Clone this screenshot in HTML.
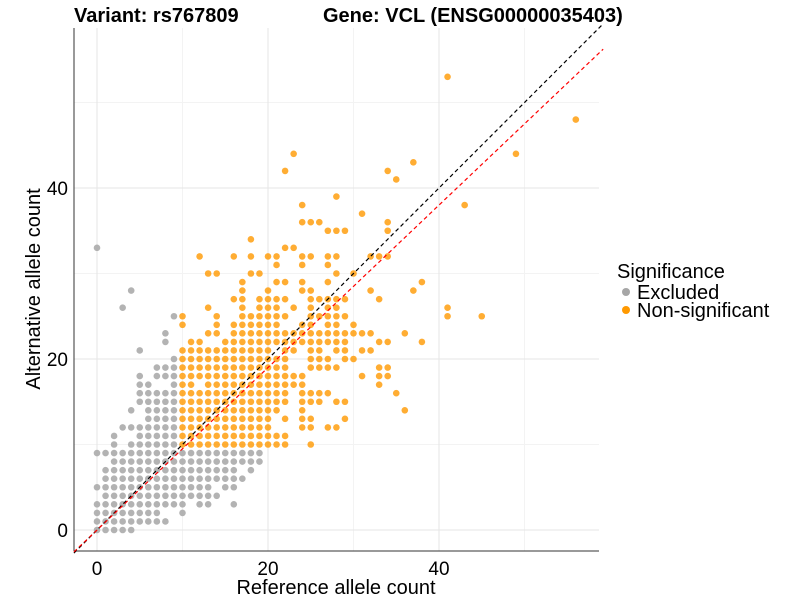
<!DOCTYPE html>
<html><head><meta charset="utf-8"><style>
body{margin:0;background:#fff;font-family:"Liberation Sans",Arial,sans-serif}
svg text{font-family:"Liberation Sans",Arial,sans-serif}
</style></head><body>
<svg id="chart" width="800" height="600" viewBox="0 0 800 600" xmlns="http://www.w3.org/2000/svg">
<rect width="800" height="600" fill="#fff"/>
<g id="grid"></g>
<g id="lines"></g>
<g id="pts"></g>
<line x1="74" y1="28" x2="74" y2="551" stroke="#333" stroke-width="1"/>
<line x1="74" y1="551" x2="599" y2="551" stroke="#333" stroke-width="1"/>
<g id="ticks"></g>
<text x="74" y="22" font-size="20" font-weight="bold" fill="#000">Variant: rs767809</text>
<text x="323" y="22" font-size="20" font-weight="bold" fill="#000">Gene: VCL (ENSG00000035403)</text>
<text x="336" y="594" font-size="20" text-anchor="middle" fill="#000">Reference allele count</text>
<text transform="translate(40,289) rotate(-90)" font-size="20" text-anchor="middle" fill="#000">Alternative allele count</text>
<g>
<text x="617" y="278" font-size="20" fill="#000">Significance</text>
<g><circle cx="626" cy="292" r="4" fill="#A6A6A6"/><text x="637" y="299" font-size="20" fill="#000">Excluded</text></g>
<g><circle cx="626" cy="310" r="4" fill="#FF9900"/><text x="637" y="317" font-size="20" fill="#000">Non-significant</text></g>
</g>
</svg>
<script>
const grayAlt=[0,1,2,3,4,5,6,7,8,9,10,11,12,13,14,15,16,17,18,19,20,21,22,23,25,26,28,33];
const grayRef=[[0,1,2,3,4],[0,1,2,3,4,5,6,7,8],[0,1,2,3,4,5,6,7,10],[0,1,2,3,4,5,6,7,8,9,10,12,13,16],[1,2,3,4,5,6,7,8,9,10,11,12,13,14],[0,1,2,3,4,5,6,7,8,9,10,11,12,13,15,16],[1,2,3,4,5,6,7,8,9,10,11,12,13,14,15,16,17],[1,2,3,4,5,6,7,8,9,10,11,12,13,14,15,16,18],[2,3,4,5,6,7,8,9,10,11,12,13,14,15,16,17,18,19],[0,1,2,3,4,5,6,7,8,9,10,11,12,13,14,15,16,17,18,19],[2,4,5,6,7,8,9],[2,5,6,7,8,9],[3,4,5,6,7,8,9],[6,7,8,9],[4,6,7,8,9],[5,6,7,8,9],[5,6,7,8,9],[5,6,9],[5,7,8,9],[7,8,9],[9],[5],[8],[8],[9],[3],[4],[0]];
const orangeAlt=[10,11,12,13,14,15,16,17,18,19,20,21,22,23,24,25,26,27,28,29,30,31,32,33,34,35,36,37,38,39,41,42,43,44,48,53];
const orangeRef=[[10,11,12,13,14,15,16,17,18,19,20,21,22,25],[10,11,12,13,14,15,16,17,18,19,20,21,22],[10,11,12,13,14,15,16,17,18,19,20,24,25,27,28],[10,11,12,13,14,15,16,17,18,19,20,22,24,25,29],[10,11,12,13,14,15,16,17,18,19,20,21,24,36],[10,11,12,13,14,15,16,17,18,19,20,21,22,24,25,26,28,29],[10,11,12,13,14,15,16,17,18,19,20,21,22,24,25,26,27,35],[10,11,13,14,15,16,17,18,19,20,21,22,23,24,33],[10,11,12,13,14,15,16,17,18,19,20,21,22,23,24,31,33,34],[10,11,12,13,14,15,16,17,18,19,20,21,22,25,26,27,28,33,34],[10,11,12,13,14,15,16,17,18,19,20,21,22,25,26,27,29,30],[10,11,12,13,14,15,16,17,18,19,20,22,23,25,26,28,29,31,32],[11,12,15,16,17,18,19,20,21,22,23,24,25,26,27,28,29,33,34,38],[13,14,16,17,18,19,20,21,22,23,24,25,26,27,28,29,30,31,32,36],[10,14,16,17,18,19,20,21,24,25,27,28,30],[10,14,17,18,19,20,21,22,25,26,27,28,29,41,45],[13,17,19,20,21,23,25,27,28,41],[16,17,19,20,21,22,25,26,27,28,29,33],[17,20,24,25,32,37],[17,21,22,24,27,38],[13,14,18,19,28,30],[21,24,27],[12,16,18,20,21,24,25,27,28,32,33,34],[22,23],[18],[27,28,29,34],[24,25,26,34],[31],[24,43],[28],[35],[22,34],[37],[23,49],[56],[41]];
const xTicks=[0,20,40];
const yTicks=[0,20,40];
const minorTicks=[10,30,50];
const redSlope=0.95;
const NS='http://www.w3.org/2000/svg';
const sx=v=>97+8.55*v;
const sy=v=>530-8.55*v;
const X0=74,X1=599,Y0=28,Y1=551;
function mk(tag,attrs,parent){const e=document.createElementNS(NS,tag);for(const k in attrs)e.setAttribute(k,attrs[k]);parent.appendChild(e);return e;}
const grid=document.getElementById('grid');
minorTicks.forEach(t=>{
 let l=mk('line',{x1:sx(t),x2:sx(t),y1:Y0,y2:Y1,stroke:'#f3f3f3','stroke-width':1},grid);
 
 
 l=mk('line',{x1:X0,x2:X1,y1:sy(t),y2:sy(t),stroke:'#f3f3f3','stroke-width':1},grid);
 
 
});
const ticks=document.getElementById('ticks');
xTicks.forEach(t=>{
 let l=mk('line',{x1:sx(t),x2:sx(t),y1:Y0,y2:Y1,stroke:'#e6e6e6','stroke-width':1},grid);
 
 
 let tx=mk('text',{x:sx(t),y:575,'font-size':19,'text-anchor':'middle',fill:'#000'},ticks);
 tx.textContent=t;
 
 
});
yTicks.forEach(t=>{
 let l=mk('line',{x1:X0,x2:X1,y1:sy(t),y2:sy(t),stroke:'#e6e6e6','stroke-width':1},grid);
 
 
 let tx=mk('text',{x:68,y:sy(t)+7,'font-size':19,'text-anchor':'end',fill:'#000'},ticks);
 tx.textContent=t;
 
 
});
const pts=document.getElementById('pts');
function drawSet(alts,refs,color,op,name){
 alts.forEach((a,i)=>refs[i].forEach(r=>{
  const c=mk('circle',{cx:sx(r),cy:sy(a),r:3.3,fill:color,'fill-opacity':op},pts);
  
  
 }));
}
drawSet(grayAlt,grayRef,'#A6A6A6',0.85,'excluded-point');
drawSet(orangeAlt,orangeRef,'#FF9900',0.8,'non-significant-point');
const lines=document.getElementById('lines');
const xa=-2.7,xb=59.2;
const yl=document.createElementNS(NS,'line');
[['x1',sx(xa)],['y1',sy(xa)],['x2',sx(xb)],['y2',sy(xb)],['stroke','#000'],['stroke-width',1.2],['stroke-dasharray','4,3']].forEach(p=>yl.setAttribute(p[0],p[1]));


lines.appendChild(yl);
const rl=document.createElementNS(NS,'line');
[['x1',sx(xa)],['y1',sy(xa*redSlope)],['x2',sx(xb)],['y2',sy(xb*redSlope)],['stroke','#f00'],['stroke-width',1.2],['stroke-dasharray','4,3']].forEach(p=>rl.setAttribute(p[0],p[1]));


lines.appendChild(rl);
document.getElementById('chart').appendChild(pts.parentNode.removeChild(pts));
document.getElementById('chart').insertBefore(lines,null);
</script>
</body></html>
